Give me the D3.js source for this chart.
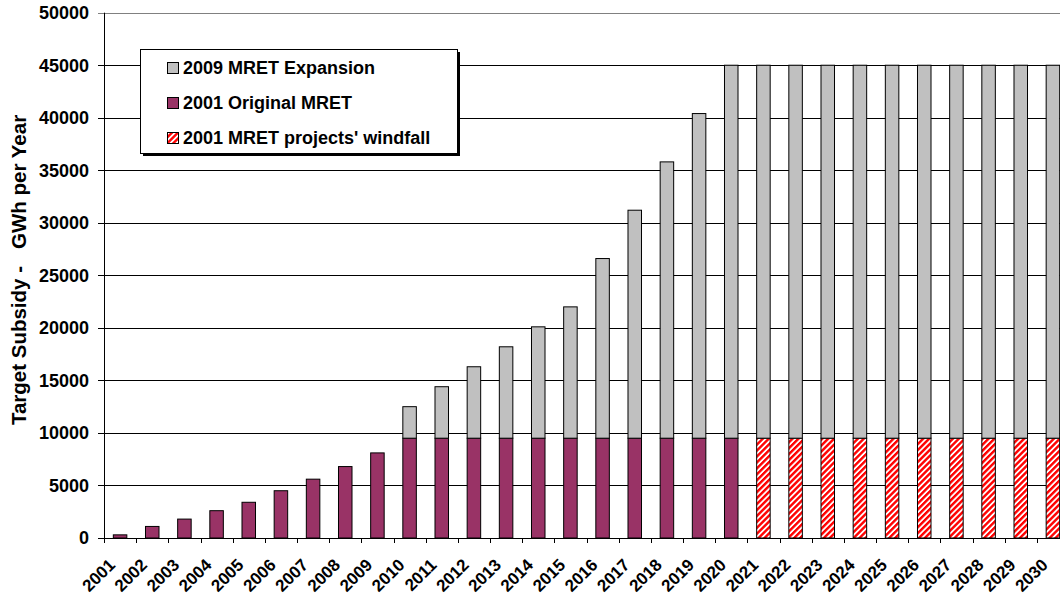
<!DOCTYPE html>
<html><head><meta charset="utf-8">
<script src="https://cdn.jsdelivr.net/npm/d3@7"></script>
<style>body{margin:0;background:#fff}svg{display:block}text{font-family:"Liberation Sans",Arial,sans-serif;font-weight:bold;fill:#000}</style>
</head><body>
<svg id="c" width="1060" height="597"></svg>
<script>
const years = d3.range(2001, 2031).map(String);
const original = [300,1100,1800,2600,3400,4500,5600,6800,8100,9500,9500,9500,9500,9500,9500,9500,9500,9500,9500,9500,0,0,0,0,0,0,0,0,0,0];
const windfall = [0,0,0,0,0,0,0,0,0,0,0,0,0,0,0,0,0,0,0,0,9500,9500,9500,9500,9500,9500,9500,9500,9500,9500];
const expansion = [0,0,0,0,0,0,0,0,0,3000,4900,6800,8700,10600,12500,17100,21700,26300,30900,35500,35500,35500,35500,35500,35500,35500,35500,35500,35500,35500];
const yTicks = [0,5000,10000,15000,20000,25000,30000,35000,40000,45000,50000];
const seriesNames = ["2009 MRET Expansion","2001 Original MRET","2001 MRET projects' windfall"];
const colors = {orig:"#993366", exp:"#c0c0c0"};

const svg = d3.select("#c");
const L=104, R=1069, T=12.7, B=538, W=1060;
const x = d3.scaleBand().domain(years).range([L,R]).paddingInner(0.58).paddingOuter(0.29);
const xb = d3.scaleBand().domain(years).range([L,R]);
const y = d3.scaleLinear().domain([0,50000]).range([B,T]);

const defs = svg.append("defs");
const pat = defs.append("pattern").attr("id","hatch").attr("patternUnits","userSpaceOnUse")
  .attr("width",4.2).attr("height",4.2).attr("patternTransform","rotate(45)");
pat.append("rect").attr("width",4.2).attr("height",4.2).attr("fill","#fff");
pat.append("rect").attr("width",2.4).attr("height",4.2).attr("fill","#ff0000");

// gridlines
svg.append("g").selectAll("line").data(yTicks).join("line")
  .attr("x1",L-6).attr("x2",W).attr("y1",d=>Math.round(y(d))+0.5).attr("y2",d=>Math.round(y(d))+0.5)
  .attr("stroke",d=>d===50000?"#808080":"#000").attr("stroke-width",1);
svg.append("g").selectAll("text").data(yTicks).join("text")
  .attr("x",89).attr("y",d=>y(d)).attr("dy","0.36em").attr("text-anchor","end")
  .style("font-size","18px").text(d=>d);

const data = years.map((yr,i)=>({yr,o:original[i],w:windfall[i],e:expansion[i]}));
const g = svg.append("g");
g.selectAll(".o").data(data.filter(d=>d.o>0)).join("rect")
  .attr("x",d=>x(d.yr)).attr("width",x.bandwidth()).attr("y",d=>y(d.o)).attr("height",d=>y(0)-y(d.o))
  .attr("fill",colors.orig).attr("stroke","#000");
g.selectAll(".w").data(data.filter(d=>d.w>0)).join("rect")
  .attr("x",d=>x(d.yr)).attr("width",x.bandwidth()).attr("y",d=>y(d.w)).attr("height",d=>y(0)-y(d.w))
  .attr("fill","url(#hatch)").attr("stroke","#000");
g.selectAll(".e").data(data.filter(d=>d.e>0)).join("rect")
  .attr("x",d=>x(d.yr)).attr("width",x.bandwidth()).attr("y",d=>y(d.o+d.w+d.e)).attr("height",d=>y(d.o+d.w)-y(d.o+d.w+d.e))
  .attr("fill",colors.exp).attr("stroke","#000");

// axes lines
svg.append("line").attr("x1",L+0.5).attr("x2",L+0.5).attr("y1",T).attr("y2",B+5).attr("stroke","#000");
svg.append("line").attr("x1",L).attr("x2",W).attr("y1",B+0.5).attr("y2",B+0.5).attr("stroke","#000");
svg.append("g").selectAll("line").data(years).join("line")
  .attr("x1",d=>Math.round(xb(d))+0.5).attr("x2",d=>Math.round(xb(d))+0.5).attr("y1",B).attr("y2",B+5).attr("stroke","#000");
svg.append("g").selectAll("text").data(years).join("text")
  .attr("transform",d=>`translate(${xb(d)+xb.bandwidth()/2-4},${B+28}) rotate(-45)`)
  .attr("text-anchor","end").style("font-size","17px").text(d=>d);

// y title
svg.append("text").attr("transform",`translate(26,270) rotate(-90)`).attr("text-anchor","middle")
  .style("font-size","20.5px").style("white-space","pre").text("Target Subsidy -   GWh per Year");

// legend
const lg = svg.append("g");
lg.append("rect").attr("x",143).attr("y",52).attr("width",317).attr("height",104).attr("fill","#000");
lg.append("rect").attr("x",140.5).attr("y",49.5).attr("width",317).attr("height",104).attr("fill","#fff").attr("stroke","#000");
const rows=[{n:seriesNames[0],f:colors.exp},{n:seriesNames[1],f:colors.orig},{n:seriesNames[2],f:"url(#hatch)"}];
const ly = d3.scalePoint().domain(seriesNames).range([68,138]);
lg.selectAll("rect.s").data(rows).join("rect").attr("class","s")
  .attr("x",167.5).attr("y",d=>ly(d.n)-5.5).attr("width",11).attr("height",11).attr("fill",d=>d.f).attr("stroke","#000");
lg.selectAll("text").data(rows).join("text").attr("x",183).attr("y",d=>ly(d.n)).attr("dy","0.36em")
  .style("font-size","18px").text(d=>d.n);
</script>
</body></html>
